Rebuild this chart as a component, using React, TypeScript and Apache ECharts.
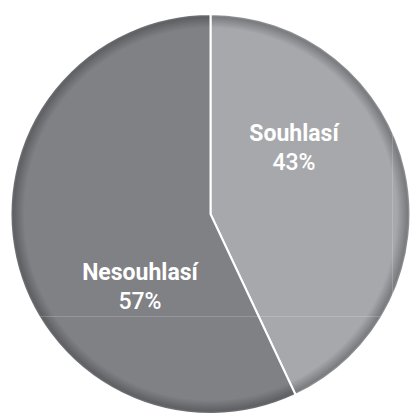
import React, { useEffect, useRef } from "react";
import * as echarts from "echarts";

const categories = ["Souhlasí", "Nesouhlasí"];
const values = [43, 57];
const baseColors = ["#a7a8ac", "#808185"];
const rimColors = ["#7a7b7f", "#5f6063"];
const labelOffsets: [number, number][] = [[-17, -44], [30, 51]];

const CX = 210.5;
const CY = 214;
const R = 200;

export default function App() {
  const ref = useRef<HTMLDivElement>(null);
  useEffect(() => {
    if (!ref.current) return;
    const chart = echarts.init(ref.current, undefined, { renderer: "svg" });
    const data = categories.map((name, i) => ({
      name,
      value: values[i],
      itemStyle: {
        color: new echarts.graphic.RadialGradient(CX, CY, R, [
          { offset: 0, color: baseColors[i] },
          { offset: 0.93, color: baseColors[i] },
          { offset: 0.985, color: rimColors[i] },
          { offset: 1, color: baseColors[i] },
        ], true),
      },
      label: { offset: labelOffsets[i] },
    }));
    chart.setOption({
      animation: false,
      backgroundColor: "#ffffff",
      series: [
        {
          type: "pie",
          center: [CX, CY],
          radius: [0, R],
          startAngle: 90,
          clockwise: true,
          silent: true,
          itemStyle: { borderColor: "#ffffff", borderWidth: 2 },
          label: {
            show: true,
            position: "inside",
            formatter: (p: any) => `{n|${p.name}}\n{p|${Math.round(p.percent)}%}`,
            rich: {
              n: {
                fontFamily: "Roboto, Liberation Sans, sans-serif",
                fontSize: 23,
                fontWeight: "bold",
                color: "#ffffff",
                lineHeight: 29,
                align: "center",
              },
              p: {
                fontFamily: "Roboto, Liberation Sans, sans-serif",
                fontSize: 23,
                fontWeight: 500,
                color: "#ffffff",
                lineHeight: 29,
                align: "center",
              },
            },
          },
          labelLine: { show: false },
          data,
        },
      ],
      graphic: [
        {
          type: "line",
          z: 100,
          shape: { x1: 37, y1: 316.5, x2: 389, y2: 316.5 },
          style: { stroke: "rgba(255,255,255,0.18)", lineWidth: 1 },
          silent: true,
        },
        {
          type: "line",
          z: 100,
          shape: { x1: 392.5, y1: 130, x2: 392.5, y2: 316 },
          style: { stroke: "rgba(255,255,255,0.18)", lineWidth: 1 },
          silent: true,
        },
      ],
    });
    return () => chart.dispose();
  }, []);
  return (
    <div
      ref={ref}
      style={{ position: "fixed", left: 0, top: 0, width: 412, height: 414 }}
    />
  );
}
